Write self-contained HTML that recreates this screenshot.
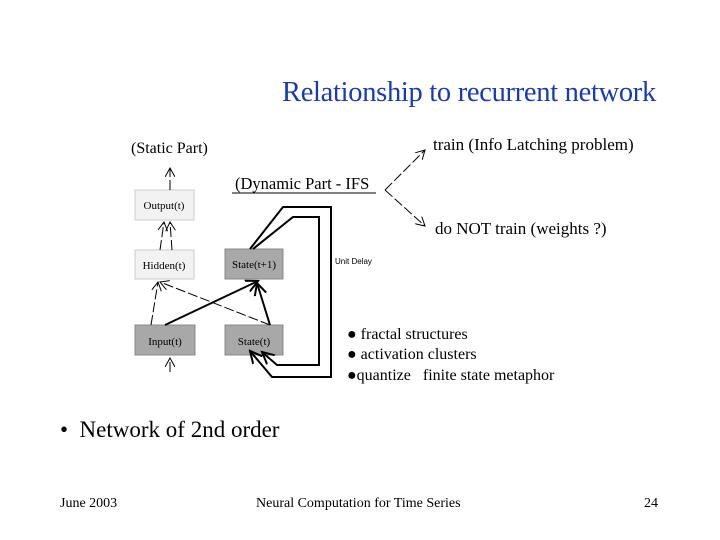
<!DOCTYPE html>
<html><head><style>
body{margin:0;width:720px;height:540px;background:#fff;position:relative;font-family:"Liberation Serif",serif;overflow:hidden}
.t{position:absolute;white-space:nowrap;color:#000}
</style></head><body>
<div class="t" style="left:282px;top:77px;font-size:28.5px;color:#1a3bb0;letter-spacing:-0.3px">Relationship to recurrent network</div>
<svg width="720" height="540" style="position:absolute;left:0;top:0" font-family="Liberation Serif, serif">
<defs>
<marker id="a" markerWidth="10" markerHeight="10" refX="9" refY="5" orient="auto" markerUnits="userSpaceOnUse"><path d="M0,0 L9,5 L0,10" fill="none" stroke="#000" stroke-width="1"/></marker>
<marker id="b" markerWidth="14" markerHeight="14" refX="12" refY="7" orient="auto" markerUnits="userSpaceOnUse"><path d="M0,1 L12,7 L0,13" fill="none" stroke="#000" stroke-width="2"/></marker>
</defs>
<rect x="135" y="190" width="59" height="30" fill="#f2f2f2" stroke="#ccc"/>
<rect x="135" y="250" width="59" height="29" fill="#f2f2f2" stroke="#ccc"/>
<rect x="225" y="249" width="58" height="30" fill="#a8a8a8" stroke="#888"/>
<rect x="135" y="325" width="60" height="30" fill="#a8a8a8" stroke="#888"/>
<rect x="225" y="325" width="58" height="30" fill="#a8a8a8" stroke="#888"/>
<g font-size="11" text-anchor="middle">
<text x="164" y="209">Output(t)</text>
<text x="164" y="269">Hidden(t)</text>
<text x="254" y="268">State(t+1)</text>
<text x="165" y="345">Input(t)</text>
<text x="254" y="345">State(t)</text>
</g>
<g stroke="#000" stroke-width="1" fill="none" stroke-dasharray="10,3">
<line x1="170" y1="190" x2="170" y2="168" marker-end="url(#a)"/>
<line x1="160" y1="250" x2="164" y2="222" marker-end="url(#a)"/>
<line x1="172" y1="250" x2="170" y2="222" marker-end="url(#a)"/>
<line x1="151" y1="325" x2="158" y2="282" marker-end="url(#a)"/>
<line x1="270" y1="325" x2="160" y2="282" marker-end="url(#a)"/>
<line x1="170" y1="372" x2="170" y2="358" marker-end="url(#a)"/>
<line x1="385" y1="190" x2="425" y2="150" marker-end="url(#a)"/>
<line x1="385" y1="190" x2="425" y2="226" marker-end="url(#a)"/>
</g>
<g stroke="#000" stroke-width="2" fill="none">
<line x1="165" y1="325" x2="258" y2="281" marker-end="url(#b)"/>
<line x1="270" y1="325" x2="257" y2="283" marker-end="url(#b)"/>
<polyline points="250,249 283,207 331,207 331,377 272,377 250,351" marker-end="url(#b)"/>
<polyline points="253,249 293,217 319,217 319,365 277,365 262,352" marker-end="url(#b)"/>
<line x1="232" y1="193" x2="376" y2="193" stroke-width="1"/>
</g>
<text x="131" y="153" font-size="16">(Static Part)</text>
<text x="235" y="189" font-size="16.5">(Dynamic Part - IFS</text>
<text x="335" y="264" font-size="8" font-family="Liberation Sans, sans-serif">Unit Delay</text>
<g font-size="17">
<text x="433" y="150">train (Info Latching problem)</text>
<text x="435" y="234">do  NOT train  (weights ?)</text>
</g>
<g font-size="16">
<text x="347" y="339">● fractal structures</text>
<text x="347" y="359">● activation clusters</text>
<text x="347" y="380">●quantize &#160; finite state metaphor</text>
</g>
</svg>
<div class="t" style="left:60px;top:417px;font-size:23px">•&nbsp; Network of 2nd order</div>
<div class="t" style="left:60px;top:496px;font-size:14px">June 2003</div>
<div class="t" style="left:256px;top:496px;font-size:14px">Neural Computation for Time Series</div>
<div class="t" style="left:644px;top:496px;font-size:14px">24</div>
</body></html>
